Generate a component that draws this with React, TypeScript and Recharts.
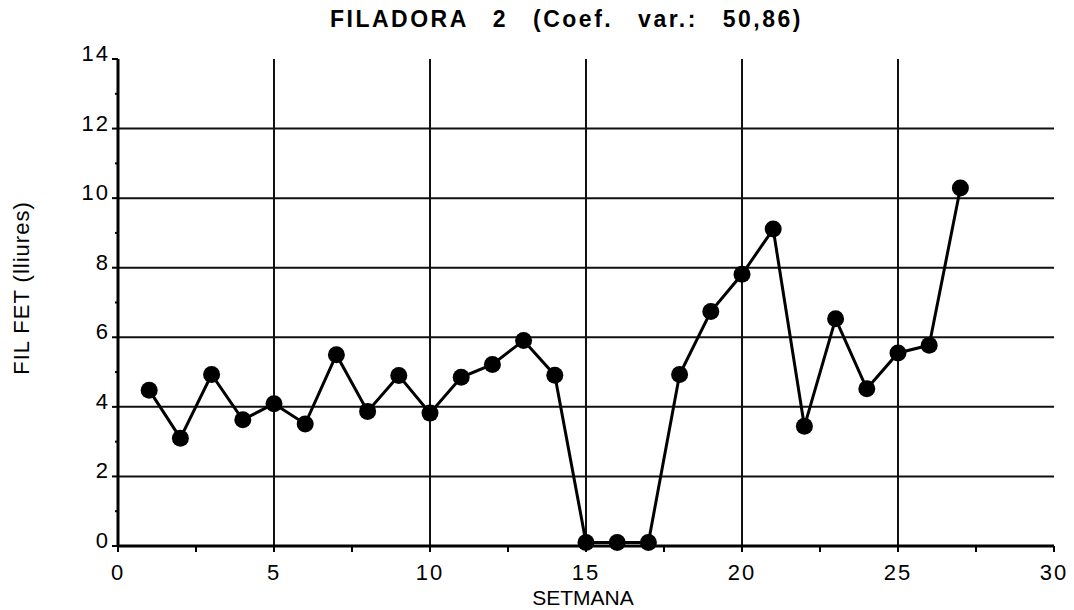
import { LineChart, Line, XAxis, YAxis, ReferenceLine } from "recharts";

const weeks = [
  1, 2, 3, 4, 5, 6, 7, 8, 9, 10, 11, 12, 13, 14, 15, 16, 17, 18, 19, 20, 21, 22,
  23, 24, 25, 26, 27,
];

const filFet = [
  4.48, 3.1, 4.93, 3.63, 4.09, 3.51, 5.5, 3.87, 4.9, 3.82, 4.85, 5.22, 5.91,
  4.91, 0.1, 0.1, 0.1, 4.93, 6.74, 7.81, 9.11, 3.44, 6.53, 4.52, 5.55, 5.77,
  10.29,
];

const xTicks = [0, 2.5, 5, 7.5, 10, 12.5, 15, 17.5, 20, 22.5, 25, 27.5, 30];
const yTicks = [0, 1, 2, 3, 4, 5, 6, 7, 8, 9, 10, 11, 12, 13, 14];
const xGrid = [5, 10, 15, 20, 25];
const yGrid = [2, 4, 6, 8, 10, 12];

const data = weeks.map((w, i) => ({ week: w, value: filFet[i] }));

const FONT = "'Liberation Sans', Arial, Helvetica, sans-serif";

function XTick(props: any) {
  const { x, y, payload } = props;
  const v = payload.value;
  const major = v % 5 === 0;
  return (
    <g>
      <line x1={x} y1={y} x2={x} y2={y + 6} stroke="#000" strokeWidth={2} />
      {major && (
        <text
          x={x}
          y={y + 34}
          textAnchor="middle"
          fontFamily={FONT}
          fontSize={22}
          letterSpacing={2}
          fill="#000"
        >
          {v}
        </text>
      )}
    </g>
  );
}

function YTick(props: any) {
  const { x, y, payload } = props;
  const v = payload.value;
  const major = v % 2 === 0;
  return (
    <g>
      <line
        x1={x}
        y1={y}
        x2={x - (major ? 6 : 3)}
        y2={y}
        stroke="#000"
        strokeWidth={2}
      />
      {major && (
        <text
          x={x - 8}
          y={y + 2}
          textAnchor="end"
          fontFamily={FONT}
          fontSize={22}
          letterSpacing={2}
          fill="#000"
        >
          {v}
        </text>
      )}
    </g>
  );
}

export default function App() {
  return (
    <div
      style={{
        position: "absolute",
        left: 0,
        top: 0,
        width: 1074,
        height: 610,
        background: "#fff",
        fontFamily: FONT,
      }}
    >
      <div
        style={{
          position: "absolute",
          left: 330,
          top: 8,
          fontSize: 23,
          lineHeight: 1,
          fontWeight: "bold",
          letterSpacing: 2.5,
          wordSpacing: 16,
          whiteSpace: "nowrap",
        }}
      >
        FILADORA 2 (Coef. var.: 50,86)
      </div>

      <div
        style={{
          position: "absolute",
          left: 22,
          top: 288,
          transform: "translate(-50%, -50%) rotate(-90deg)",
          fontSize: 22,
          lineHeight: 1,
          letterSpacing: 1,
          whiteSpace: "nowrap",
        }}
      >
        FIL FET (lliures)
      </div>

      <div
        style={{
          position: "absolute",
          left: 583,
          top: 597,
          transform: "translate(-50%, -50%)",
          fontSize: 21,
          lineHeight: 1,
          whiteSpace: "nowrap",
        }}
      >
        SETMANA
      </div>

      <LineChart
        width={1074}
        height={610}
        data={data}
        margin={{ top: 59, right: 20, bottom: 34, left: 58 }}
      >
        <XAxis
          type="number"
          dataKey="week"
          domain={[0, 30]}
          ticks={xTicks}
          interval={0}
          height={30}
          tickSize={0}
          tickMargin={0}
          tickLine={false}
          axisLine={{ stroke: "#000", strokeWidth: 3 }}
          tick={<XTick />}
        />
        <YAxis
          type="number"
          domain={[0, 14]}
          ticks={yTicks}
          interval={0}
          width={60}
          tickSize={0}
          tickMargin={0}
          tickLine={false}
          axisLine={{ stroke: "#000", strokeWidth: 3 }}
          tick={<YTick />}
        />
        {xGrid.map((g) => (
          <ReferenceLine key={"x" + g} x={g} stroke="#111" strokeWidth={2} />
        ))}
        {yGrid.map((g) => (
          <ReferenceLine key={"y" + g} y={g} stroke="#111" strokeWidth={2} />
        ))}
        <Line
          type="linear"
          dataKey="value"
          stroke="#000"
          strokeWidth={3}
          dot={{ r: 8.5, fill: "#000", stroke: "none" }}
          isAnimationActive={false}
        />
      </LineChart>
    </div>
  );
}
